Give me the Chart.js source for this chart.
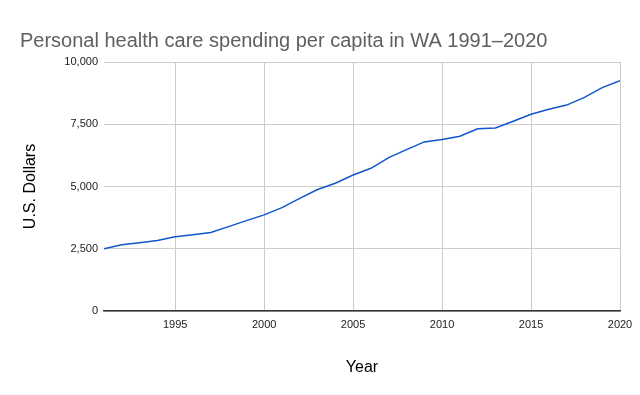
<!DOCTYPE html>
<html>
<head>
<meta charset="utf-8">
<script src="https://cdn.jsdelivr.net/npm/chart.js@4"></script>
<style>
html,body{margin:0;padding:0;background:#fff;}
#wrap{width:640px;height:395px;position:relative;}
</style>
</head>
<body>
<div id="wrap"><canvas id="c" width="640" height="395"></canvas></div>
<script>
const years = [1991,1992,1993,1994,1995,1996,1997,1998,1999,2000,2001,2002,2003,2004,2005,2006,2007,2008,2009,2010,2011,2012,2013,2014,2015,2016,2017,2018,2019,2020];
const spending = [2500,2660,2740,2830,2980,3060,3150,3390,3630,3860,4150,4520,4880,5130,5460,5730,6160,6480,6790,6890,7020,7320,7350,7620,7900,8100,8270,8580,8970,9250];
const xTickValues = [1995,2000,2005,2010,2015,2020];
const yTickValues = [0,2500,5000,7500,10000];
const titleText = 'Personal health care spending per capita in WA 1991–2020';
const yTitle = 'U.S. Dollars';
const xTitle = 'Year';

const FONT = "'Liberation Sans', Arial, sans-serif";

const titlePlugin = {
  id: 'customTitle',
  afterDraw(chart) {
    const ctx = chart.ctx;
    ctx.save();
    ctx.font = '20px ' + FONT;
    ctx.fillStyle = '#5f5f5f';
    ctx.textBaseline = 'alphabetic';
    ctx.textAlign = 'left';
    ctx.fillText(titleText, 20, 47);
    ctx.restore();
  }
};

new Chart(document.getElementById('c'), {
  type: 'line',
  data: {
    datasets: [{
      data: years.map((y, i) => ({x: y, y: spending[i]})),
      borderColor: '#1155cc',
      borderWidth: 1.5,
      pointRadius: 0,
      tension: 0,
      fill: false
    }]
  },
  options: {
    responsive: false,
    animation: false,
    devicePixelRatio: 1,
    layout: {padding: {left: 16, right: 20, top: 62, bottom: 12}},
    plugins: {legend: {display: false}, tooltip: {enabled: false}, title: {display: false}},
    scales: {
      x: {
        type: 'linear',
        min: 1991,
        max: 2020,
        afterBuildTicks(axis) { axis.ticks = xTickValues.map(v => ({value: v})); },
        afterFit(axis) { axis.height = 395 - 311 - 12; },
        grid: {color: '#cccccc', lineWidth: 1, drawTicks: false},
        border: {display: true, color: '#333333', width: 1.5},
        ticks: {
          font: {family: FONT, size: 11},
          color: '#222222',
          padding: 7,
          maxRotation: 0,
          callback: v => String(v)
        },
        title: {display: true, text: xTitle, font: {family: FONT, size: 16}, color: '#000', padding: {top: 0, bottom: 6}}
      },
      y: {
        min: 0,
        max: 10000,
        afterBuildTicks(axis) { axis.ticks = yTickValues.map(v => ({value: v})); },
        afterFit(axis) { axis.width = 104 - 16; },
        grid: {color: '#cccccc', lineWidth: 1, drawTicks: false},
        border: {display: false},
        ticks: {
          font: {family: FONT, size: 11},
          color: '#222222',
          padding: 6,
          callback: v => v.toLocaleString('en-US')
        },
        title: {display: true, text: yTitle, font: {family: FONT, size: 16}, color: '#000', padding: {top: 5, bottom: 0}}
      }
    }
  },
  plugins: [titlePlugin]
});
</script>
</body>
</html>
